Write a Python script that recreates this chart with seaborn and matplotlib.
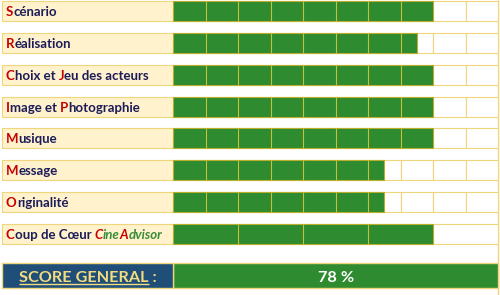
import numpy as np
import pandas as pd
import matplotlib.pyplot as plt
import seaborn as sns

# données
criteres = ["Scénario", "Réalisation", "Choix et Jeu des acteurs", "Image et Photographie",
            "Musique", "Message", "Originalité", "Coup de Cœur CineAdvisor"]
notes = [8, 7.5, 8, 8, 8, 6.5, 6.5, 8]
nb_cases = [10, 10, 10, 10, 10, 10, 10, 5]
lettres_rouges = [[0], [0], [0, 9], [0, 9], [0], [0], [0], [0]]
score_general = 78

VERT = "#2e8b30"
JAUNE = "#f0d57a"
NAVY = "#1c1c5a"
ROUGE = "#c80000"

sns.set_theme(style="white")
plt.rcParams['font.family'] = ['Lato', 'DejaVu Sans']

# conversion pixels -> données
def X(px):
    return (px - 173) / 32.5

def Y(py):
    return (py - 11) / 31.85

H = 20 / 31.85

fig = plt.figure(figsize=(5, 2.95), dpi=100)
ax = fig.add_axes([0, 0, 1, 1])

df = pd.DataFrame({"critere": criteres, "note": notes})
sns.barplot(data=df, x="note", y="critere", orient="h", color=VERT, saturation=1,
            width=H, edgecolor="#b8ae2e", linewidth=0.8, zorder=3, ax=ax)

# cases blanches et fond des libellés
for i, n in enumerate(nb_cases):
    pas = 10 / n
    ax.barh([i] * n, [pas] * n, left=np.arange(n) * pas, height=H, color="white",
            edgecolor=JAUNE, linewidth=0.8, zorder=1)
    for k in range(1, n):
        if k * pas < notes[i]:
            ax.vlines(k * pas, i - H / 2, i + H / 2, color="#c8bf3a", lw=0.8, zorder=4)
ax.barh(range(len(criteres)), [-X(2)] * len(criteres), left=X(2), height=H,
        color="#fff2cc", edgecolor=JAUNE, linewidth=0.8, zorder=1)

# ligne score général
ys = Y(275.5)
hs = 25 / 31.85
ax.barh(ys, 10, left=0, height=hs, color=VERT, edgecolor=JAUNE, linewidth=1, zorder=3)
ax.barh(ys, -X(2), left=X(2), height=hs, color="#1f4e79", edgecolor=JAUNE, linewidth=1, zorder=3)
ax.vlines(X(497.5), Y(0), Y(295), color=JAUNE, lw=1, zorder=0)

ax.set_xlim(X(0), X(500))
ax.set_ylim(Y(295), Y(0))
ax.axis("off")

renderer = fig.canvas.get_renderer()

def largeur(s, **kw):
    t = ax.text(0, 0, s + "|", **kw)
    w1 = t.get_window_extent(renderer).width
    t.set_text("|")
    w2 = t.get_window_extent(renderer).width
    t.remove()
    return w1 - w2

def segments_de(i):
    s = criteres[i]
    if i == len(criteres) - 1:
        return [("C", ROUGE, "normal"), ("oup de Cœur ", NAVY, "normal"),
                ("C", ROUGE, "italic"), ("ine", "#3a8c3a", "italic"),
                ("A", ROUGE, "italic"), ("dvisor", "#3a8c3a", "italic")]
    segs = []
    debut = 0
    for r in lettres_rouges[i]:
        if r > debut:
            segs.append((s[debut:r], NAVY, "normal"))
        segs.append((s[r], ROUGE, "normal"))
        debut = r + 1
    segs.append((s[debut:], NAVY, "normal"))
    return segs

fs = 9.5
for i in range(len(criteres)):
    px = 6
    for txt, col, style in segments_de(i):
        kw = dict(fontsize=fs, fontweight="bold", fontstyle=style)
        ax.text(X(px), i + 5 / 31.85, txt, color=col, va="baseline", ha="left", zorder=5, **kw)
        px += largeur(txt, **kw)

# textes du score
kw = dict(fontsize=11.7, fontweight="bold")
ax.text(X(19), Y(282), "SCORE GENERAL :", color="#f2dc7e", va="baseline", ha="left", zorder=5, **kw)
w = largeur("SCORE GENERAL", **kw)
ax.hlines(Y(284), X(19), X(19 + w), color="#f2dc7e", lw=1, zorder=5)
ax.text(X(336), Y(282), f"{score_general} %", color="white", va="baseline", ha="center", zorder=5, **kw)

fig.savefig("out.png", dpi=100)
